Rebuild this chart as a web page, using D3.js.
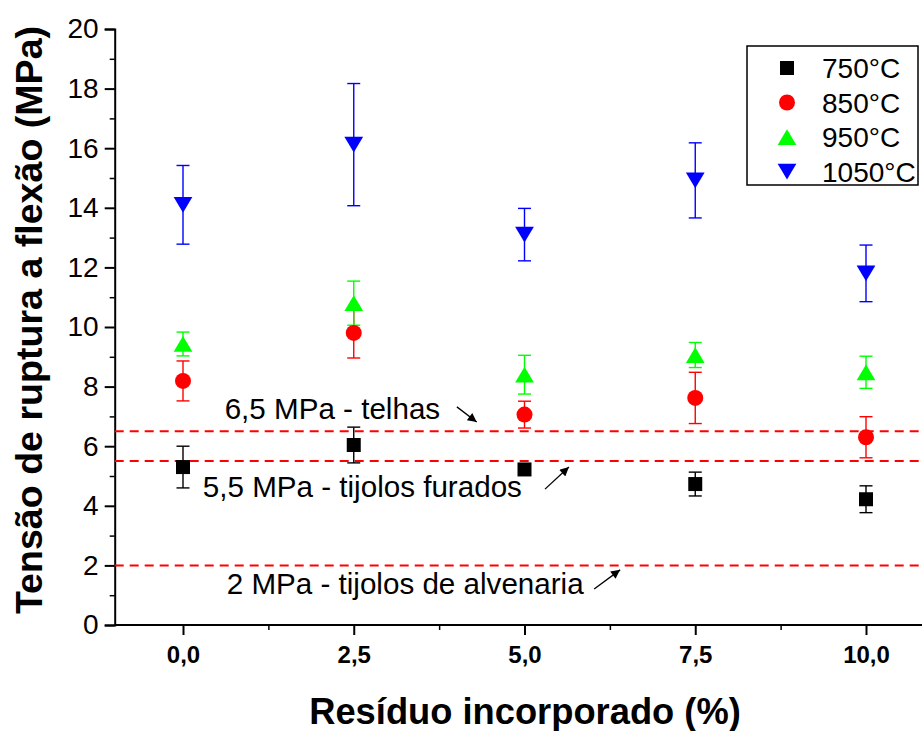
<!DOCTYPE html>
<html>
<head>
<meta charset="utf-8">
<script src="https://cdn.jsdelivr.net/npm/d3@7"></script>
<style>
  body { margin: 0; background: #fff; }
  text { font-family: Arial, "Liberation Sans", sans-serif; }
</style>
</head>
<body>
<div id="chart"></div>
<script>
// residue content (%)
const residue = [0, 2.5, 5, 7.5, 10];

// flexural strength (MPa) per firing temperature, with error bars
const temps = ["750°C", "850°C", "950°C", "1050°C"];
const mean750 = [5.3, 6.04, 5.22, 4.73, 4.22];
const err750 = [0.7, 0.6, 0.1, 0.4, 0.45];
const mean850 = [8.19, 9.8, 7.06, 7.62, 6.3];
const err850 = [0.67, 0.84, 0.45, 0.86, 0.69];
const mean950 = [9.43, 10.8, 8.4, 9.06, 8.48];
const err950 = [0.4, 0.74, 0.65, 0.42, 0.54];
const mean1050 = [14.1, 16.12, 13.1, 14.92, 11.8];
const err1050 = [1.32, 2.05, 0.88, 1.26, 0.95];

// reference limits
const refValues = [6.5, 5.5, 2];
const refLabels = ["6,5 MPa - telhas", "5,5 MPa - tijolos furados", "2 MPa - tijolos de alvenaria"];
const refLabelPos = [[0.61, 6.9], [0.29, 4.3], [0.64, 1.04]];
const refArrows = [[4.01, 7.32, 4.3, 6.81], [5.3, 4.56, 5.65, 5.3], [6.02, 1.21, 6.4, 1.85]];

const yTicks = [0, 2, 4, 6, 8, 10, 12, 14, 16, 18, 20];
const xTicks = [0, 2.5, 5, 7.5, 10];

const series = [
  { name: temps[0], mean: mean750, err: err750, color: "#000000", shape: "square" },
  { name: temps[1], mean: mean850, err: err850, color: "#ff0000", shape: "circle" },
  { name: temps[2], mean: mean950, err: err950, color: "#00ff00", shape: "up" },
  { name: temps[3], mean: mean1050, err: err1050, color: "#0000ff", shape: "down" },
];

const W = 922, H = 731;
const svg = d3.select("#chart").append("svg")
  .attr("width", W).attr("height", H);

const x = d3.scaleLinear().domain([-1, 11]).range([114.7, 934.3]);
const y = d3.scaleLinear().domain([0, 20]).range([625, 29]);

const fmt = d => d.toFixed(1).replace(".", ",");

// marker paths
function marker(shape, r) {
  if (shape === "square") return `M${-r},${-r}H${r}V${r}H${-r}Z`;
  if (shape === "circle") return d3.arc()({ innerRadius: 0, outerRadius: r, startAngle: 0, endAngle: 2 * Math.PI });
  const w = r * 1.25, h = r * 1.05;
  if (shape === "up") return `M0,${-h}L${w},${h}L${-w},${h}Z`;
  return `M0,${h}L${w},${-h}L${-w},${-h}Z`;
}
const markerSize = { square: 7, circle: 8, up: 7.5, down: 7.5 };

// axes
const yAxis = svg.append("g")
  .attr("transform", `translate(${x(-1)},0)`)
  .call(d3.axisLeft(y).tickValues(yTicks).tickSize(10).tickPadding(6).tickFormat(d => d));
yAxis.selectAll("text").style("font-size", "28px").attr("fill", "#000");
yAxis.select(".domain").attr("stroke-width", 2);
yAxis.selectAll(".tick line").attr("stroke-width", 2);
svg.append("g")
  .attr("transform", `translate(${x(-1)},0)`)
  .call(d3.axisLeft(y).tickValues(d3.range(1, 20, 2)).tickSize(5).tickFormat(""))
  .call(g => g.select(".domain").remove())
  .selectAll("line").attr("stroke-width", 1.5);

const xAxis = svg.append("g")
  .attr("transform", `translate(0,${y(0)})`)
  .call(d3.axisBottom(x).tickValues(xTicks).tickSize(10).tickPadding(11).tickFormat(fmt));
xAxis.selectAll("text").style("font-size", "24px").style("font-weight", "bold").attr("fill", "#000");
xAxis.select(".domain").attr("stroke-width", 2).attr("d", `M${x(-1)},0H${x(11)}`);
xAxis.selectAll(".tick line").attr("stroke-width", 2);
svg.append("g")
  .attr("transform", `translate(0,${y(0)})`)
  .call(d3.axisBottom(x).tickValues([1.25, 3.75, 6.25, 8.75]).tickSize(5).tickFormat(""))
  .call(g => g.select(".domain").remove())
  .selectAll("line").attr("stroke-width", 1.5);

// axis titles
svg.append("text")
  .attr("transform", `translate(42,${y(10) - 7}) rotate(-90)`)
  .attr("text-anchor", "middle")
  .style("font-size", "37.6px").style("font-weight", "bold")
  .text("Tensão de ruptura a flexão (MPa)");
svg.append("text")
  .attr("x", 525).attr("y", 724)
  .attr("text-anchor", "middle")
  .style("font-size", "36.3px").style("font-weight", "bold")
  .text("Resíduo incorporado (%)");

// reference dashed lines
svg.append("g").selectAll("line")
  .data(refValues).join("line")
  .attr("x1", x(-1)).attr("x2", x(11))
  .attr("y1", d => y(d)).attr("y2", d => y(d))
  .attr("stroke", "#ff0000").attr("stroke-width", 2)
  .attr("stroke-dasharray", "9,6");

svg.append("g").selectAll("text")
  .data(refLabels).join("text")
  .attr("x", (d, i) => x(refLabelPos[i][0]))
  .attr("y", (d, i) => y(refLabelPos[i][1]))
  .style("font-size", "29.6px")
  .text(d => d);

svg.append("defs").append("marker")
  .attr("id", "arrow").attr("viewBox", "0 0 10 10")
  .attr("refX", 10).attr("refY", 5)
  .attr("markerWidth", 14).attr("markerHeight", 9)
  .attr("markerUnits", "userSpaceOnUse")
  .attr("orient", "auto")
  .append("path").attr("d", "M0,0L10,5L0,10Z").attr("fill", "#000");

svg.append("g").selectAll("line")
  .data(refArrows).join("line")
  .attr("x1", d => x(d[0])).attr("y1", d => y(d[1]))
  .attr("x2", d => x(d[2])).attr("y2", d => y(d[3]))
  .attr("stroke", "#000").attr("stroke-width", 1.3)
  .attr("marker-end", "url(#arrow)");

// error bars
const capW = 6.5;
series.forEach(s => {
  const g = svg.append("g").attr("stroke", s.color).attr("stroke-width", 1.4);
  residue.forEach((r, i) => {
    const cx = x(r), lo = y(s.mean[i] - s.err[i]), hi = y(s.mean[i] + s.err[i]);
    g.append("line").attr("x1", cx).attr("x2", cx).attr("y1", lo).attr("y2", hi);
    g.append("line").attr("x1", cx - capW).attr("x2", cx + capW).attr("y1", lo).attr("y2", lo);
    g.append("line").attr("x1", cx - capW).attr("x2", cx + capW).attr("y1", hi).attr("y2", hi);
  });
});

// markers
series.forEach(s => {
  svg.append("g").selectAll("path")
    .data(residue).join("path")
    .attr("transform", (d, i) => `translate(${x(d)},${y(s.mean[i])})`)
    .attr("d", marker(s.shape, markerSize[s.shape]))
    .attr("fill", s.color);
});

// legend
const legend = svg.append("g").attr("transform", "translate(747,46)");
legend.append("rect")
  .attr("width", 171).attr("height", 139)
  .attr("fill", "#fff").attr("stroke", "#000").attr("stroke-width", 1.5);
series.forEach((s, i) => {
  const row = legend.append("g").attr("transform", `translate(0,${22 + i * 34.5})`);
  row.append("path")
    .attr("transform", "translate(40,0)")
    .attr("d", marker(s.shape, markerSize[s.shape]))
    .attr("fill", s.color);
  row.append("text")
    .attr("x", 75).attr("y", 10)
    .style("font-size", "28px")
    .text(s.name);
});
</script>
</body>
</html>
